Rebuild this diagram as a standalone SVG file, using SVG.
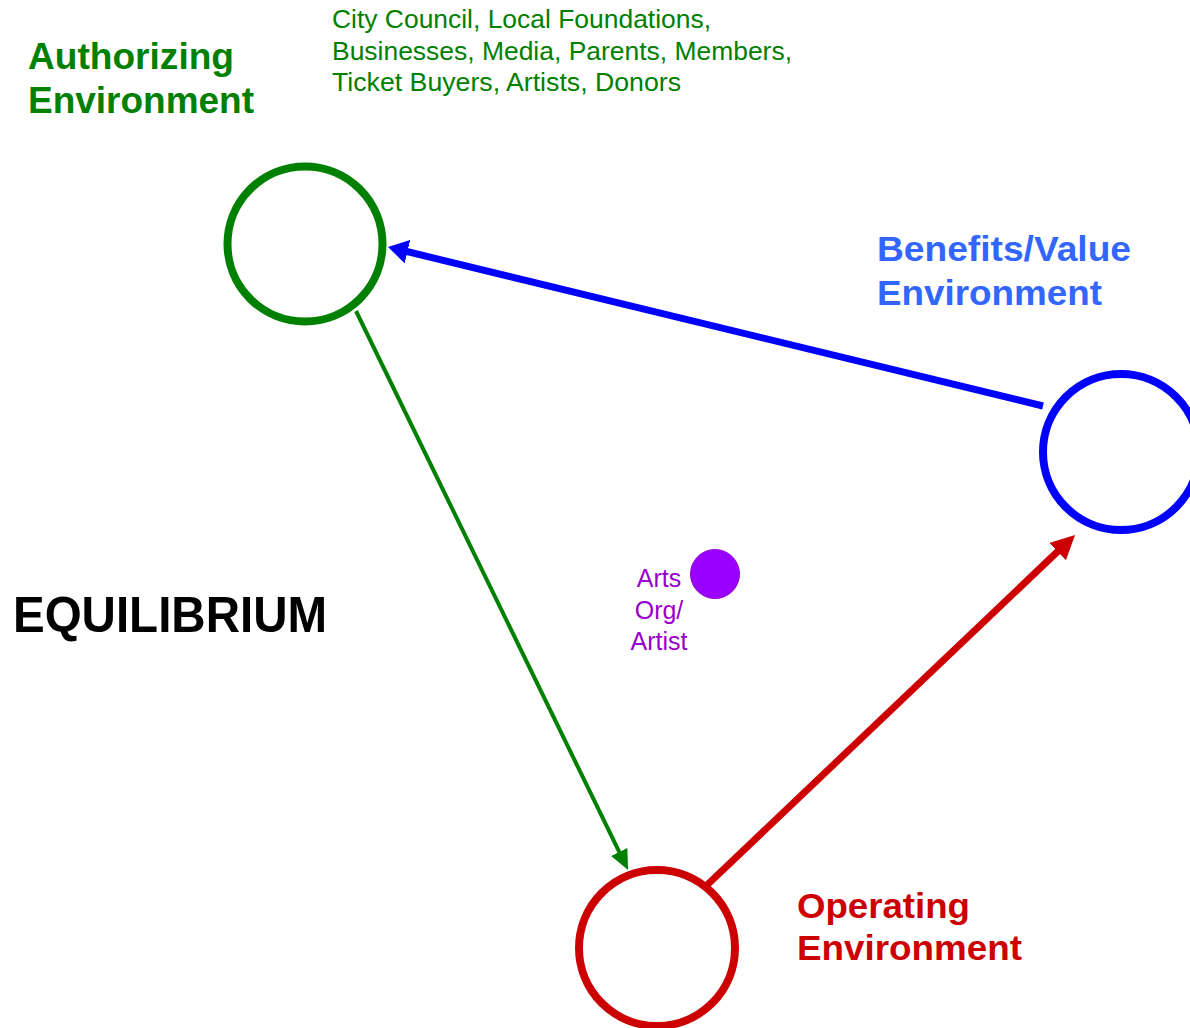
<svg xmlns="http://www.w3.org/2000/svg" width="1190" height="1028" viewBox="0 0 1190 1028">
<style>
.lbl{font-family:"Liberation Sans",Arial,sans-serif;font-weight:bold;}
.reg{font-family:"Liberation Sans",Arial,sans-serif;}
.ring{fill:#fff;stroke-width:8;}
</style>
<defs>
<marker id="mBlue" markerUnits="userSpaceOnUse" markerWidth="20" markerHeight="24" refX="5" refY="12" orient="auto"><path d="M0,0 L20,12 L0,24 z" fill="#0000ff"/></marker>
<marker id="mGreen" markerUnits="userSpaceOnUse" markerWidth="20" markerHeight="18" refX="6" refY="9" orient="auto"><path d="M0,0 L20,9 L0,18 z" fill="#008000"/></marker>
<marker id="mRed" markerUnits="userSpaceOnUse" markerWidth="24" markerHeight="24" refX="6" refY="12" orient="auto"><path d="M0,0 L24,12 L0,24 z" fill="#cc0000"/></marker>
</defs>
<rect width="1190" height="1028" fill="#fff"/>
<g id="connectors" fill="none">
<line x1="1043" y1="406" x2="402.6" y2="250.5" stroke="#0000ff" stroke-width="7" marker-end="url(#mBlue)"/>
<line x1="356" y1="311" x2="621.9" y2="857.4" stroke="#008000" stroke-width="4" marker-end="url(#mGreen)"/>
<line x1="706" y1="886" x2="1062" y2="547.4" stroke="#cc0000" stroke-width="7" marker-end="url(#mRed)"/>
</g>
<g id="authorizing">
<circle class="ring" cx="305" cy="244" r="77.5" stroke="#008000"/>
<text class="lbl" fill="#008000" font-size="36"><tspan x="28" y="69" textLength="206" lengthAdjust="spacingAndGlyphs">Authorizing</tspan><tspan x="28" y="113" textLength="226" lengthAdjust="spacingAndGlyphs">Environment</tspan></text>
<text class="reg" fill="#008000" font-size="25"><tspan x="332" y="28" textLength="379" lengthAdjust="spacingAndGlyphs">City Council, Local Foundations,</tspan><tspan x="332" y="60" textLength="460" lengthAdjust="spacingAndGlyphs">Businesses, Media, Parents, Members,</tspan><tspan x="332" y="91" textLength="349" lengthAdjust="spacingAndGlyphs">Ticket Buyers, Artists, Donors</tspan></text>
</g>
<g id="benefits">
<circle class="ring" cx="1121" cy="452" r="78" stroke="#0000ff"/>
<text class="lbl" fill="#3366ff" font-size="35"><tspan x="877" y="261" textLength="254" lengthAdjust="spacingAndGlyphs">Benefits/Value</tspan><tspan x="877" y="305" textLength="225" lengthAdjust="spacingAndGlyphs">Environment</tspan></text>
</g>
<g id="operating">
<circle class="ring" cx="657" cy="948" r="78" stroke="#cc0000"/>
<text class="lbl" fill="#cc0000" font-size="35"><tspan x="797" y="918" textLength="173" lengthAdjust="spacingAndGlyphs">Operating</tspan><tspan x="797" y="960" textLength="225" lengthAdjust="spacingAndGlyphs">Environment</tspan></text>
</g>
<g id="arts">
<circle cx="715" cy="574" r="24.5" fill="#9900ff" stroke="#9900cc" stroke-width="1"/>
<text class="reg" fill="#9900cc" font-size="25" text-anchor="middle"><tspan x="659" y="587">Arts</tspan><tspan x="659" y="619">Org/</tspan><tspan x="659" y="650">Artist</tspan></text>
</g>
<g id="equilibrium">
<text class="lbl" fill="#000" font-size="50" x="13" y="632" textLength="314" lengthAdjust="spacingAndGlyphs">EQUILIBRIUM</text>
</g>
</svg>
